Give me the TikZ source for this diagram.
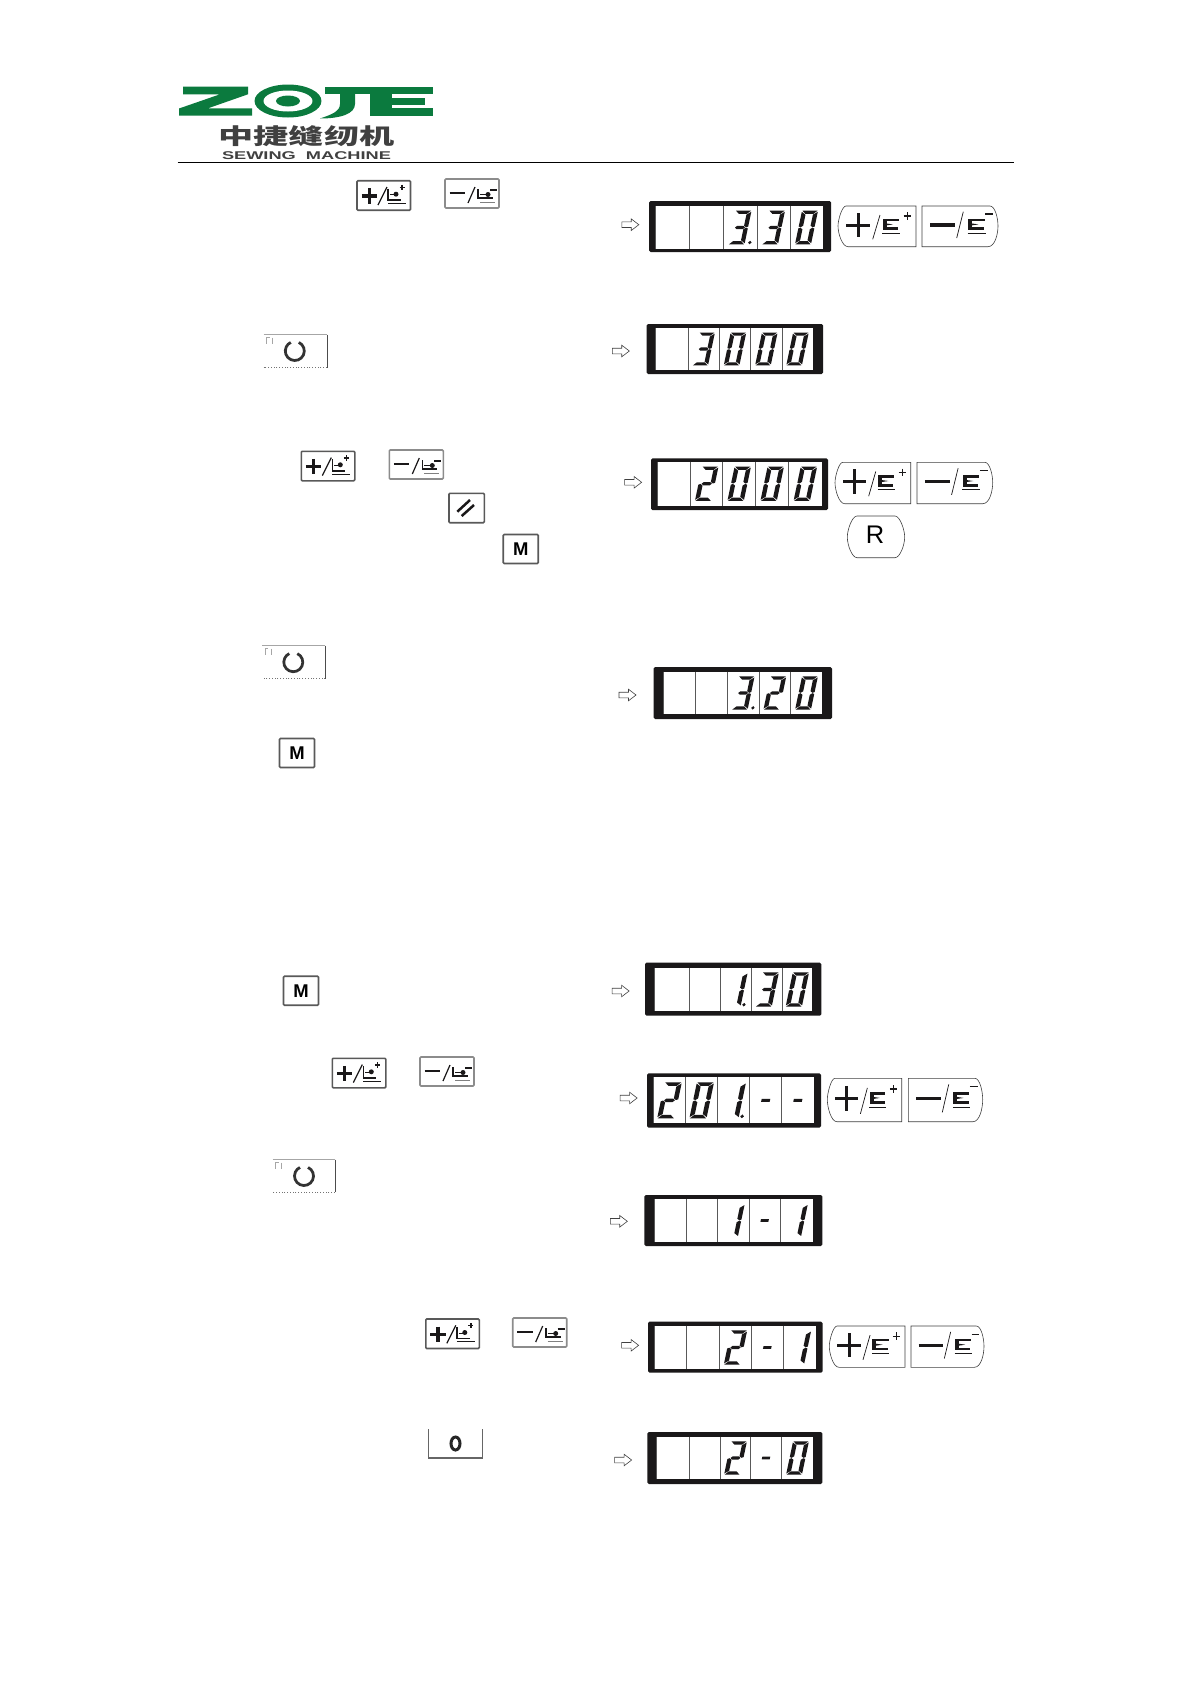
\documentclass[tikz,border=0pt]{standalone}
\usepackage{fontspec}
\usepackage{xcolor}
\usetikzlibrary{shapes.arrows}
\newfontfamily\keyfont{Liberation Sans}
\newfontfamily\cjkfont{Noto Sans CJK SC}
\definecolor{zojegreen}{HTML}{0B7A3E}
\definecolor{lcdink}{HTML}{1A1819}

%% seven-segment pieces, local units = reference pixels
\def\lcdsega{\fill[lcdink] (-7.5,-16.8)--(7.5,-16.8)--(4,-13.6)--(-4,-13.6)--cycle;}
\def\lcdsegd{\fill[lcdink] (-7.5,16.8)--(7.5,16.8)--(4,13.6)--(-4,13.6)--cycle;}
\def\lcdsegg{\fill[lcdink] (-5,0)--(-3.2,-1.6)--(3.2,-1.6)--(5,0)--(3.2,1.6)--(-3.2,1.6)--cycle;}
\def\lcdsegf{\fill[lcdink] (-8,-15.7)--(-3.7,-12.8)--(-3.7,-1.8)--(-6,-0.2)--(-8,-1)--cycle;}
\def\lcdsege{\fill[lcdink] (-8,15.7)--(-3.7,12.8)--(-3.7,1.8)--(-6,0.2)--(-8,1)--cycle;}
\def\lcdsegb{\fill[lcdink] (8,-15.7)--(3.7,-12.8)--(3.7,-1.8)--(6,-0.2)--(8,-1)--cycle;}
\def\lcdsegc{\fill[lcdink] (8,15.7)--(3.7,12.8)--(3.7,1.8)--(6,0.2)--(8,1)--cycle;}
\def\lcdsegh{\fill[lcdink] (-4,-1.4) rectangle (4,1.4);}
\def\lcdsegp{\fill[lcdink] (13,15) circle (0.035cm);}
\def\lcdsegq{\fill[lcdink] (11,15) circle (0.035cm);}
\def\lcdsegn{}
\expandafter\def\csname lcdmap0\endcsname{a,b,c,d,e,f}
\expandafter\def\csname lcdmap1\endcsname{b,c}
\expandafter\def\csname lcdmap2\endcsname{a,b,g,e,d}
\expandafter\def\csname lcdmap3\endcsname{a,b,g,c,d}
\expandafter\def\csname lcdmap1d\endcsname{b,c,q}
\expandafter\def\csname lcdmap3d\endcsname{a,b,g,c,d,p}
\expandafter\def\csname lcdmap-\endcsname{h}
\expandafter\def\csname lcdmapn\endcsname{n}

% #1 = top of window, #2 = bottom of window, #3 = left/right/char list
\newcommand{\lcdcells}[3]{%
  \pgfmathsetmacro{\lcdsc}{(#2-#1)/43}
  \pgfmathsetmacro{\lcdcy}{(#1+#2)/2}
  \foreach \lx/\rx/\ch in {#3} {
    \draw[lcdrule] (\lx,#1) -- (\lx,#2);
    \pgfmathsetmacro{\lcdcx}{(\lx+\rx)/2}
    \edef\lcdlist{\csname lcdmap\ch\endcsname}
    \begin{scope}[shift={(\lcdcx,\lcdcy)}, scale=\lcdsc, xslant=0.21]
      \foreach \s in \lcdlist { \csname lcdseg\s\endcsname }
    \end{scope}
  }
}
\newcommand{\lcdframe}[4]{%
  \fill[lcdink, rounded corners=0.03cm] (#1) rectangle (#2);
  \fill[white] (#3) rectangle (#4);
}

% small printed keys, #1,#2 = top left corner
\newcommand{\smallplus}[2]{%
  \begin{scope}[shift={(#1,#2)}]
    \draw[smallbox] (0,0) rectangle (53.5,29.5);
    \draw[bar] (4.5,15.3) -- (20,15.3);
    \draw[bar] (12.2,7.6) -- (12.2,23);
    \draw[slashline] (21,24.3) -- (30,6.3);
    \draw[iconline] (31,8) -- (31,19.5) -- (44,19.5);
    \fill[lcdink] (39,13.5) circle (0.05cm);
    \draw[iconline, line width=0.02cm] (33,14) -- (39,14);
    \draw[iconline, line width=0.03cm] (42.5,6.6) -- (47.5,6.6) (45,4) -- (45,9.2);
    \draw[thinrule] (31,22.5) -- (49,22.5);
  \end{scope}
}
\newcommand{\smallminus}[2]{%
  \begin{scope}[shift={(#1,#2)}]
    \draw[smallbox, draw=black!45] (0,0) rectangle (54,29);
    \draw[bar, line width=0.05cm] (4.5,14) -- (20,14);
    \draw[slashline] (23,24) -- (30,8);
    \draw[iconline] (33,10) -- (33,19) -- (48,19);
    \fill[lcdink] (43,15.5) circle (0.05cm);
    \draw[iconline, line width=0.02cm] (35,15.5) -- (43,15.5);
    \draw[iconline, line width=0.03cm] (45,11) -- (52,11);
    \draw[thinrule, gray] (35,22.8) -- (50,22.8);
  \end{scope}
}

% big drawn keys, #1,#2 = top left corner, #3,#4 = bottom right corner
\newcommand{\bigplus}[4]{%
  \pgfmathsetmacro{\kx}{(#3-#1)/78}
  \pgfmathsetmacro{\ky}{(#4-#2)/40.7}
  \begin{scope}[shift={(#1,#2)}, xscale=\kx, yscale=\ky]
    \draw[bigbox] (78,0) -- (8,0) .. controls (4,0) and (0,14) .. (0,20) .. controls (0,27) and (4,40.7) .. (10,40.7) -- (78,40.7) -- cycle;
    \draw[bar, line width=0.06cm] (8.3,19) -- (32.3,19);
    \draw[bar, line width=0.06cm] (20.3,7) -- (20.3,31);
    \draw[slashline, line width=0.014cm] (34.7,33.3) -- (42,9);
    \fill[lcdink] (44.5,12.5) rectangle (61,15.2);
    \fill[lcdink] (44.5,12.5) rectangle (48.5,24);
    \fill[lcdink] (44.5,21.4) rectangle (60,24);
    \fill[lcdink] (48,17.4) -- (55,18.4) -- (48,19.4) -- cycle;
    \draw[thinrule] (44,26.8) -- (62,26.8);
    \draw[thinrule, line width=0.022cm] (65.5,10) -- (73,10) (69.3,6.3) -- (69.3,13.7);
  \end{scope}
}
\newcommand{\bigminus}[4]{%
  \pgfmathsetmacro{\kx}{(#3-#1)/76}
  \pgfmathsetmacro{\ky}{(#4-#2)/40.7}
  \begin{scope}[shift={(#1,#2)}, xscale=\kx, yscale=\ky]
    \draw[bigbox] (0,0) -- (68,0) .. controls (73,0) and (76,12) .. (76,20) .. controls (76,28) and (73,40.7) .. (66,40.7) -- (0,40.7) -- cycle;
    \draw[bar, line width=0.065cm] (8,19) -- (33,19);
    \draw[slashline, line width=0.014cm] (34.7,32) -- (41.3,5.7);
    \fill[lcdink] (46,12.5) rectangle (62.5,15.2);
    \fill[lcdink] (46,12.5) rectangle (50,24);
    \fill[lcdink] (46,21.4) rectangle (61.5,24);
    \fill[lcdink] (49.5,17.4) -- (56.5,18.4) -- (49.5,19.4) -- cycle;
    \draw[thinrule] (45.5,26.8) -- (63.5,26.8);
    \draw[thinrule, line width=0.022cm] (63,8) -- (71,8);
  \end{scope}
}

% open key with the broken ring
\newcommand{\ringkey}[4]{%
  \pgfmathsetmacro{\rcx}{#1+31.3}
  \pgfmathsetmacro{\rcy}{(#2+#4)/2}
  \draw[black!35, line width=0.012cm] (#1,#2) -- (#3,#2);
  \draw[black!70, line width=0.02cm] (#3,#2) -- (#3,#4);
  \draw[black!55, line width=0.02cm, densely dotted] (#3,#4) -- (#1,#4);
  \draw[black!35, line width=0.012cm] (#1+3,#2+9) -- (#1+3,#2+3) -- (#1+6,#2+3) (#1+9,#2+3) -- (#1+9,#2+9);
  \draw[black!80, line width=0.055cm] (\rcx,\rcy) ++(65:0.19cm) arc[start angle=65, end angle=-245, radius=0.19cm];
}

\begin{document}
\begin{tikzpicture}[
  x=0.02cm, y=-0.02cm,
  lcdrule/.style ={black!65, line width=0.016cm},
  smallbox/.style={draw=black!65, fill=white, line width=0.032cm, rounded corners=0.02cm},
  bigbox/.style  ={draw=black!75, fill=white, line width=0.012cm},
  bar/.style     ={draw=lcdink, line width=0.065cm},
  slashline/.style={draw=lcdink, line width=0.024cm},
  iconline/.style={draw=lcdink, line width=0.032cm},
  thinrule/.style={draw=lcdink, line width=0.012cm},
  outarrow/.style={single arrow, draw=black!75, fill=white, line width=0.012cm,
                   minimum height=0.34cm, inner xsep=0pt, inner ysep=0.05cm, xshift=-0.04cm,
                   single arrow head extend=0.06cm, single arrow tip angle=75},
  mkey/.style    ={draw=black!65, fill=white, line width=0.032cm, rounded corners=0.02cm,
                   minimum width=0.7cm, minimum height=0.58cm, inner sep=0pt,
                   font=\keyfont\bfseries\fontsize{10.5}{12}\selectfont},
]
\useasboundingbox (0,0) rectangle (1190,1684);

%% ─── Logo ────────────────────────────────────────────────────────────────────
\fill[zojegreen] (183,86.7) -- (248,86.7) -- (248,94.3) -- (208,108.3) -- (252,108.3)
  -- (252,115.7) -- (179,115.7) -- (179,108.5) -- (220,94.3) -- (183,94.3) -- cycle;
\fill[zojegreen] (288,101) ellipse[x radius=0.67cm, y radius=0.33cm];
\fill[white]     (288,101) ellipse[x radius=0.49cm, y radius=0.21cm];
\fill[zojegreen] (288,101) ellipse[x radius=0.24cm, y radius=0.11cm];
\fill[zojegreen] (325,86.7) rectangle (370,94.3);
\fill[zojegreen] (340,94) -- (340,104) .. controls (340,112) and (330,115) .. (320,118.5)
  .. controls (340,118.5) and (355,114) .. (355,104) -- (355,94) -- cycle;
\fill[zojegreen] (370,86.7) rectangle (433,115.7);
\fill[white] (392,94.3) rectangle (433.5,97.7);
\fill[white] (392,105) rectangle (433.5,108.3);
\fill[white] (425,97.7) rectangle (433.5,105);
\node[transform shape, xscale=1.6, font=\cjkfont\bfseries\fontsize{12.5}{13}\selectfont, text=black!75,
      inner sep=0pt] (logoCn) at (306.5,136.5) {中捷缝纫机};
\node[transform shape, xscale=1.62, font=\keyfont\bfseries\fontsize{6.4}{7}\selectfont, text=black!75,
      inner sep=0pt] (logoEn) at (306.5,155.5) {SEWING\ \ MACHINE};
\draw[black, line width=0.02cm] (177.5,162.4) -- (1014,162.4);

%% ─── Row 1 ───────────────────────────────────────────────────────────────────
\smallplus{357}{180.7}
\smallminus{445}{179}
\node[outarrow] (arrA) at (630.5,224.7) {};
\lcdframe{649,201}{831,252}{655,206}{823,249}
\lcdcells{206}{249}{655/689/n,689/723/n,723/757/3d,757/790/3,790/823/0}
\bigplus{838}{206}{916}{246.7}
\bigminus{922}{206}{998}{246.7}

%% ─── Row 2 ───────────────────────────────────────────────────────────────────
\ringkey{263.5}{334.5}{327}{367.5}
\node[outarrow] (arrB) at (621,351) {};
\lcdframe{646.7,324}{823,374}{655.7,328}{813,370}
\lcdcells{328}{370}{655.7/688/n,688/719.3/3,719.3/750.7/0,750.7/782/0,782/813/0}

%% ─── Row 3 ───────────────────────────────────────────────────────────────────
\smallplus{301.3}{451.3}
\smallminus{389.3}{450}
\draw[smallbox] (449,493.3) rectangle (484.3,522.7);
\draw[slashline, line width=0.05cm] (457.3,511.7) -- (470,500);
\draw[slashline, line width=0.05cm] (461.7,516) -- (474,505);
\node[mkey] (keyMa) at (520.7,549) {M};
\node[outarrow] (arrC) at (633.3,482.3) {};
\lcdframe{651,458.3}{828,510}{657.7,461.7}{822,505.7}
\lcdcells{461.7}{505.7}{657.7/690.7/n,690.7/722.7/2,722.7/755.7/0,755.7/788.7/0,788.7/822/0}
\bigplus{835}{462.3}{910.7}{503.7}
\bigminus{917}{462.3}{992.7}{503.7}
\draw[bigbox] (857,516) -- (895,516) .. controls (900,516) and (904.7,530) .. (904.7,537)
  .. controls (904.7,545) and (900,557.7) .. (895,557.7) -- (857,557.7)
  .. controls (852,557.7) and (847.3,545) .. (847.3,537) .. controls (847.3,530) and (852,516) .. (857,516) -- cycle;
\node[font=\keyfont\fontsize{14.5}{16}\selectfont, inner sep=0pt] (keyR) at (875,535) {R};

%% ─── Row 4 ───────────────────────────────────────────────────────────────────
\ringkey{262}{645.7}{325.3}{678.7}
\node[mkey] (keyMb) at (297,753) {M};
\node[outarrow] (arrD) at (627.7,695) {};
\lcdframe{653.7,667}{832,719}{663.3,671.7}{822.3,714.3}
\lcdcells{671.7}{714.3}{663.3/695.7/n,695.7/727.3/n,727.3/759/3d,759/790.7/2,790.7/822.3/0}

%% ─── Row 5 ───────────────────────────────────────────────────────────────────
\node[mkey] (keyMc) at (301,990.7) {M};
\node[outarrow] (arrE) at (620.8,991) {};
\lcdframe{645,962.7}{821.3,1015.7}{654.3,967.7}{812,1011.3}
\lcdcells{967.7}{1011.3}{654.3/689/n,689/720.3/n,720.3/751.7/1d,751.7/782.7/3,782.7/812/0}

%% ─── Row 6 ───────────────────────────────────────────────────────────────────
\smallplus{332.3}{1058.3}
\smallminus{420}{1057}
\node[outarrow] (arrF) at (628.8,1098) {};
\lcdframe{647,1073.3}{821,1127.7}{653.3,1077.3}{814,1123.3}
\lcdcells{1077.3}{1123.3}{653.3/685.7/2,685.7/717.7/0,717.7/749.7/1d,749.7/781.7/-,781.7/814/-}
\bigplus{827.3}{1078.3}{901.7}{1121.7}
\bigminus{908.3}{1078.3}{982.7}{1121.7}

%% ─── Row 7 ───────────────────────────────────────────────────────────────────
\ringkey{272.7}{1159.7}{335}{1192.3}
\node[outarrow] (arrG) at (619,1221.3) {};
\lcdframe{644.3,1195}{822.3,1246}{654.3,1199.3}{812.7,1241.7}
\lcdcells{1199.3}{1241.7}{654.3/686.3/n,686.3/717.7/n,717.7/749/1,749/780.3/-,780.3/812.7/1}

%% ─── Row 8 ───────────────────────────────────────────────────────────────────
\smallplus{425.8}{1319}
\smallminus{512.7}{1318}
\node[outarrow] (arrH) at (630.3,1345.3) {};
\lcdframe{648,1321.7}{822.7,1372.7}{654.3,1325.7}{815.7,1369.3}
\lcdcells{1325.7}{1369.3}{654.3/686.3/n,686.3/719.7/n,719.7/751.3/2,751.3/783.3/-,783.3/815.7/1}
\bigplus{829.3}{1326}{905}{1367.3}
\bigminus{911}{1326}{984}{1367.3}

%% ─── Row 9 ───────────────────────────────────────────────────────────────────
\draw[black!60, line width=0.024cm] (428.8,1429.3) -- (428.8,1458) -- (482.7,1458) -- (482.7,1429.3);
\draw[black!85, line width=0.06cm] (455.5,1443.5) ellipse[x radius=0.09cm, y radius=0.13cm];
\node[outarrow] (arrI) at (623.3,1460) {};
\lcdframe{647.3,1432}{822.3,1484}{656.7,1436.7}{813.3,1479.3}
\lcdcells{1436.7}{1479.3}{656.7/689.3/n,689.3/720.7/n,720.7/750.3/2,750.3/781.7/-,781.7/813.3/0}

\end{tikzpicture}
\end{document}
